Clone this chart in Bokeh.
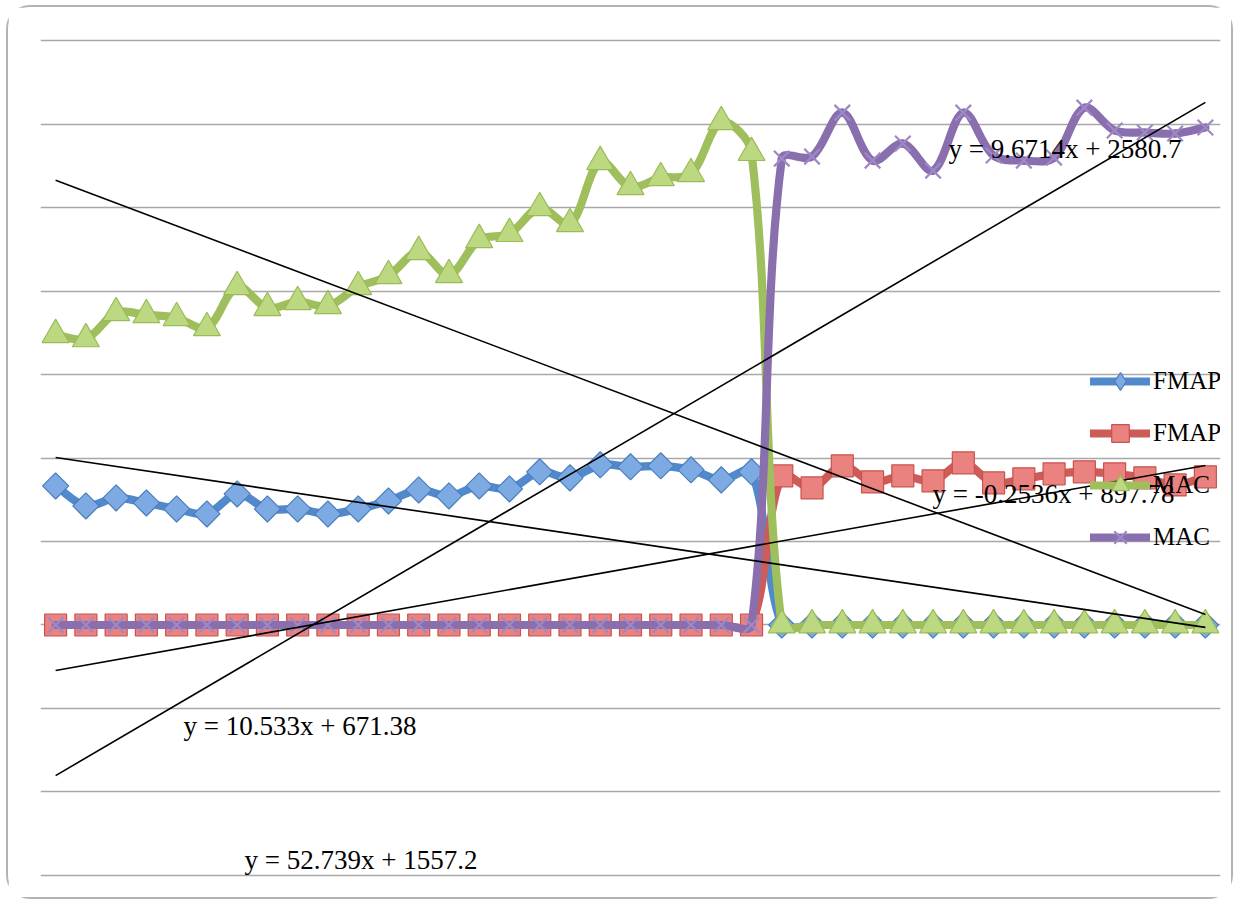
import numpy as np
from bokeh.plotting import figure
from bokeh.models import Range1d, Grid, FixedTicker, Legend, LegendItem, Label
from bokeh.embed import file_html
from bokeh.resources import INLINE

# ---------------- data ----------------
x_cat = list(range(1, 40))

fmap_a = [833, 713, 761, 731, 695, 665, 785, 695, 695, 665, 695, 743,
          809, 773, 833, 815, 917, 881, 959, 947, 953, 929, 869, 917,
          0, 0, 0, 0, 0, 0, 0, 0, 0, 0, 0, 0, 0, 0, 0]
fmap_b = [0, 0, 0, 0, 0, 0, 0, 0, 0, 0, 0, 0,
          0, 0, 0, 0, 0, 0, 0, 0, 0, 0, 0, 0,
          893, 821, 953, 857, 893, 863, 971, 851, 875, 905, 917, 905, 881, 839, 887]
mac_a = [1738, 1713, 1869, 1857, 1839, 1779, 2025, 1899, 1935, 1911, 2025, 2091,
         2235, 2097, 2307, 2343, 2498, 2402, 2774, 2624, 2678, 2702, 3013, 2828,
         0, 0, 0, 0, 0, 0, 0, 0, 0, 0, 0, 0, 0, 0, 0]
mac_b = [0, 0, 0, 0, 0, 0, 0, 0, 0, 0, 0, 0,
         0, 0, 0, 0, 0, 0, 0, 0, 0, 0, 0, 0,
         2793, 2805, 3068, 2781, 2883, 2721, 3068, 2811, 2781, 2799, 3098, 2961, 2949, 2943, 2979]

series_names = ["FMAP", "FMAP", "MAC", "MAC"]
grid_values = [-1500, -1000, -500, 0, 500, 1000, 1500, 2000, 2500, 3000, 3500]
equation_texts = ["y = 9.6714x + 2580.7", "y = -0.2536x + 897.78",
                  "y = 10.533x + 671.38", "y = 52.739x + 1557.2"]

# ---------------- layout / style ----------------
eq_positions = [(30.51, 2853), (29.98, 787), (5.23, -602), (7.24, -1410)]
styles = [
    dict(line="#5289CC", marker="square", legend_marker="diamond", angle=np.pi / 4, size=18.5,
         fill="#7DAAE2", mline="#4A7EBB", mwidth=1.2),
    dict(line="#CD5B57", marker="square", legend_marker="square", angle=0.0, size=22,
         fill="#EA837F", mline="#C9524E", mwidth=1.2),
    dict(line="#9EBF5C", marker="triangle", legend_marker="triangle", angle=0.0, size=27,
         fill="#BCD982", mline="#9ABB57", mwidth=1.2),
    dict(line="#8A6FAF", marker="x", legend_marker="x", angle=0.0, size=22,
         fill=None, mline="#9E88C5", mwidth=2.2),
]
FONT = "Liberation Serif"

W, H = 1227, 894
ML, MR, MT, MB = 32, 15, 29, 22
XR = (0.5, 39.5)
YR = (-1524, 3524)

p = figure(width=W, height=H,
           x_range=Range1d(*XR), y_range=Range1d(*YR),
           x_axis_type=None, y_axis_type=None,
           toolbar_location=None, output_backend="svg",
           min_border_left=ML, min_border_right=MR, min_border_top=MT, min_border_bottom=MB)
p.outline_line_color = None
p.background_fill_color = "white"
p.border_fill_color = "white"
p.styles = {"border": "2px solid #b3b3b3", "border-radius": "24px",
            "margin-left": "6px", "margin-top": "5px"}

p.add_layout(Grid(dimension=1, ticker=FixedTicker(ticks=grid_values),
                  grid_line_color="#a8a8a8", grid_line_width=1.6))

# pixel scale of the frame, used so the smoothing works in screen space
SX = (W - ML - MR) / (XR[1] - XR[0])
SY = (H - MT - MB) / (YR[1] - YR[0])


def smooth_segments(xs, ys):
    X = np.asarray(xs, float) * SX
    Y = np.asarray(ys, float) * SY
    Xp = np.concatenate([[X[0]], X, [X[-1]]])
    Yp = np.concatenate([[Y[0]], Y, [Y[-1]]])
    tx = Xp[2:] - Xp[:-2]
    ty = Yp[2:] - Yp[:-2]
    dprev = np.hypot(X - Xp[:-2], Y - Yp[:-2])
    dnext = np.hypot(Xp[2:] - X, Yp[2:] - Y)
    tot = dprev + dnext
    tot[tot == 0] = 1.0
    fwd = dnext / tot / 3.0
    bwd = dprev / tot / 3.0
    cx0 = X[:-1] + tx[:-1] * fwd[:-1]
    cy0 = Y[:-1] + ty[:-1] * fwd[:-1]
    cx1 = X[1:] - tx[1:] * bwd[1:]
    cy1 = Y[1:] - ty[1:] * bwd[1:]
    return dict(x0=X[:-1] / SX, y0=Y[:-1] / SY, x1=X[1:] / SX, y1=Y[1:] / SY,
                cx0=cx0 / SX, cy0=cy0 / SY, cx1=cx1 / SX, cy1=cy1 / SY)


all_series = [fmap_a, fmap_b, mac_a, mac_b]
items = []
nan_pt = np.array([np.nan])
for name, ys, st in zip(series_names, all_series, styles):
    seg = smooth_segments(x_cat, ys)
    lr = p.bezier(**seg, line_color=st["line"], line_width=8.2, line_cap="round")
    if st["marker"] == "x":
        p.scatter(x_cat, ys, marker="x", size=st["size"], line_color=st["mline"],
                  line_width=st["mwidth"])
        lm = p.scatter(x=nan_pt, y=nan_pt, marker="x", size=st["size"],
                       line_color=st["mline"], line_width=st["mwidth"])
    else:
        p.scatter(x_cat, ys, marker=st["marker"], size=st["size"], angle=st["angle"],
                  fill_color=st["fill"], line_color=st["mline"], line_width=st["mwidth"])
        lm = p.scatter(x=nan_pt, y=nan_pt, marker=st["legend_marker"], size=st["size"],
                       fill_color=st["fill"], line_color=st["mline"], line_width=st["mwidth"])
    items.append(LegendItem(label=name, renderers=[lr, lm]))

# linear trendlines (least squares over each series)
for ys in all_series:
    m, b = np.polyfit(x_cat, ys, 1)
    xe = [x_cat[0], x_cat[-1]]
    p.line(xe, [m * xe[0] + b, m * xe[1] + b], line_color="black", line_width=1.6)

for txt, (lx, ly) in zip(equation_texts, eq_positions):
    p.add_layout(Label(x=lx, y=ly, text=txt, text_font=FONT, text_font_size="27px",
                       text_color="black", text_baseline="alphabetic", text_align="left"))

legend = Legend(items=items, location=(1050, 320), orientation="vertical",
                glyph_width=60, glyph_height=44, label_height=44, spacing=8,
                padding=0, margin=0, label_standoff=3,
                background_fill_alpha=0, border_line_color=None,
                label_text_font=FONT, label_text_font_size="25px", label_text_color="black")
p.add_layout(legend)

open("out.html", "w").write(file_html(p, INLINE))
